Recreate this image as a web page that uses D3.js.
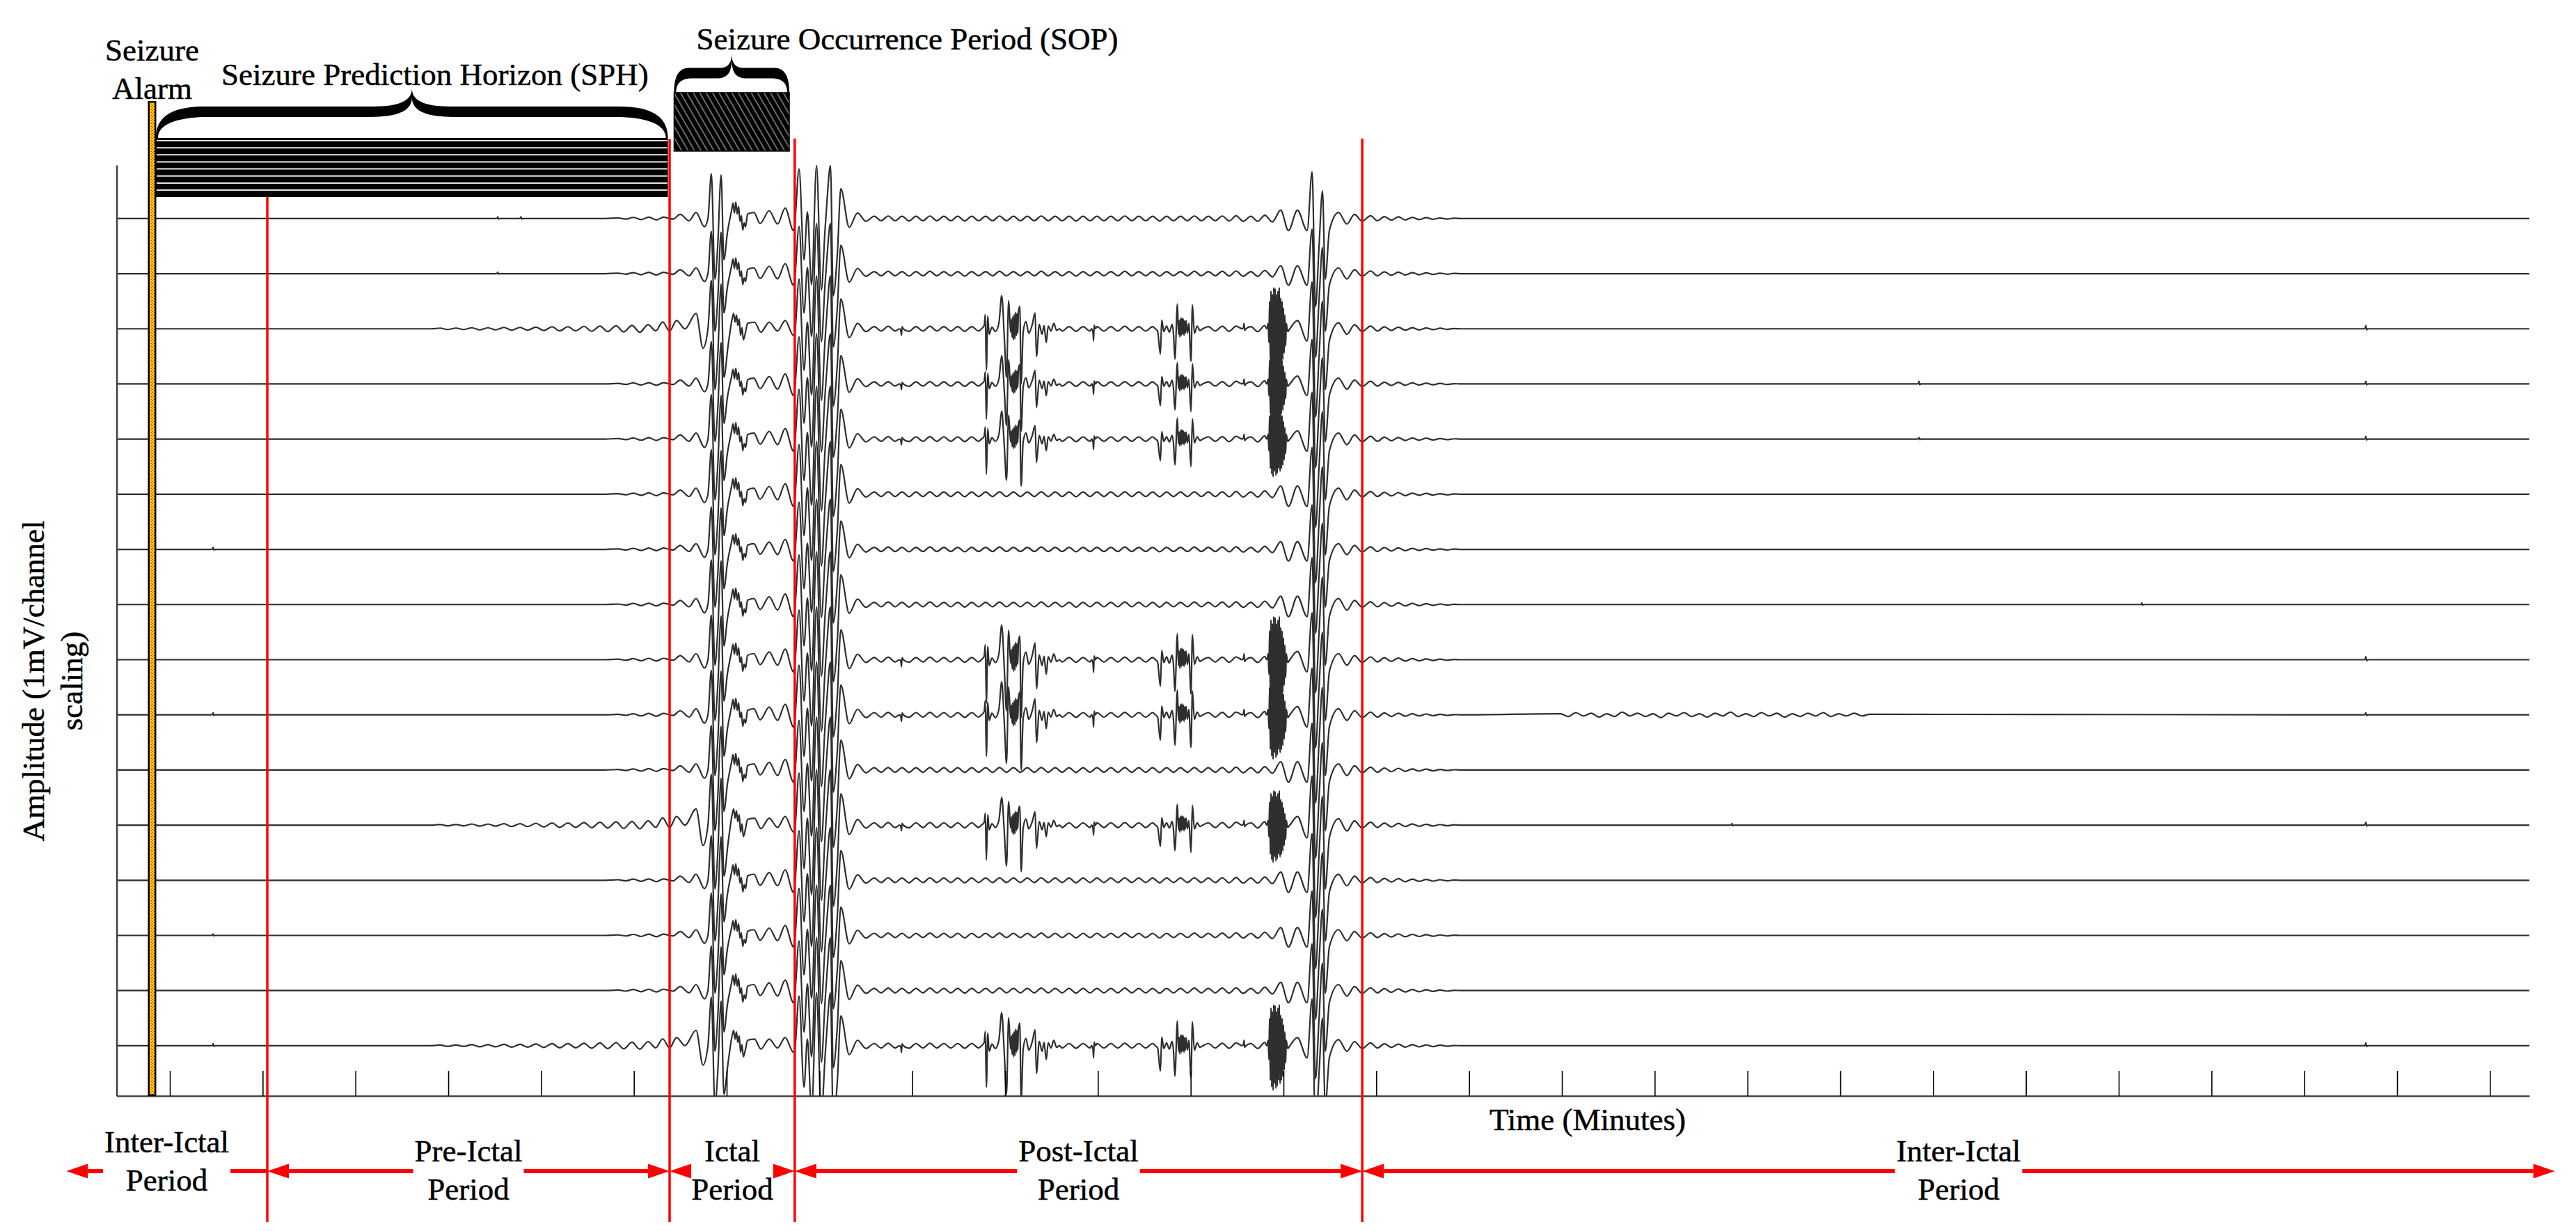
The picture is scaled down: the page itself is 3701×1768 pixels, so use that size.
<!DOCTYPE html>
<html><head><meta charset="utf-8">
<script src="https://cdn.jsdelivr.net/npm/d3@7"></script>
<style>html,body{margin:0;padding:0;background:#fff;} svg{display:block;}</style>
</head><body>
<svg id="chart" width="3701" height="1768"></svg>
<script>
// ================= DATA =================
const channels = [1,2,3,4,5,6,7,8,9,10,11,12,13,14,15,16];
const tickSeconds = [0,60,120,180,240,300,360,420,480,540,600,660,720,780,840,900,960,1020,1080,1140,1200,1260,1320,1380,1440,1500];
const timeDomain = [-34.4, 1525.5];          // seconds
const ampDomain = [0.09, 16.97];             // mV, 1 mV per channel
const periodLabels = [["Inter-Ictal","Period"],["Pre-Ictal","Period"],["Ictal","Period"],["Post-Ictal","Period"],["Inter-Ictal","Period"]];
const periodEdges = [-67, 63, 323.1, 404, 770.9, 1542];
const boundaryTimes = [63, 323.1, 404, 770.9];
const alarmTime = -11.5;
const sphWindow = [-9, 322];
const sopWindow = [326, 400.5];
const typeBChannels = [3, 12, 16];
const burstChannels = [3, 4, 5, 9, 10, 12, 16];
const burstGain = [1.0, 0.9, 0.85, 1.05, 1.0, 0.8, 1.0];
const channelGain = [1.0,0.95,1.0,0.95,1.0,1.0,0.95,1.0,1.0,1.0,1.0,1.05,1.0,0.95,1.0,1.0];

const preA = [[281.7,0],[289.8,0.01],[294.8,-0.01],[299.7,0.02],[304.7,-0.02],[309.6,0.025],[314.6,-0.025],[319.1,0.025],[323.1,0]];
const preB = [[169.2,0],[174.6,0.0125],[179.6,-0.0125],[185,0.0125],[189.9,-0.0125],[195.3,0.019],[200.3,-0.019],[205.7,0.019],[210.6,-0.019],[216,0.025],[221,-0.025],[226.4,0.025],[231.3,-0.025],[236.7,0.031],[241.7,-0.031],[247.1,0.0375],[252,-0.0375],[257.4,0.0375],[262.4,-0.0375],[267.8,0.044],[272.7,-0.044],[278.1,0.05],[283.1,-0.05],[288.5,0.056],[293.4,-0.056],[298.8,0.0625],[303.8,-0.0625],[309.2,0.075],[314.1,-0.0375],[318.6,0.125]];
const ictalA = [[325.4,-0.01],[329.9,0.075],[335.7,-0.04],[340.2,0.11],[345.6,-0.15],[347.9,0],[350.1,0.81],[352.4,-1.1],[354.2,-0.5],[356.4,0.79],[358.2,-0.75],[360.5,-0.25],[363.2,0.15],[364.1,0.28],[365,0.1],[365.9,0.3],[366.8,0.08],[367.7,0.22],[368.6,-0.05],[369.5,0.05],[370.4,-0.21],[371.3,-0.08],[372.2,-0.15],[373.5,0.08],[377.6,0.11],[381.6,-0.09],[387.5,0.14],[392.9,-0.1],[397.8,0.19],[403.2,-0.22]];
const ictalB = [[323.1,-0.04],[327.6,0.15],[333,0],[340.2,0.28],[344.7,-0.35],[347.9,0],[350.1,0.88],[352.4,-1.1],[354.2,-0.5],[356.4,0.81],[358.2,-0.88],[360.9,-0.31],[363.6,0.19],[364.5,0.28],[365.4,0.12],[366.3,0.25],[367.2,0.06],[368.1,0.18],[369,-0.12],[369.9,0.02],[370.8,-0.2],[372.2,-0.06],[373.5,0.1],[378,0.12],[382.1,-0.06],[387.5,0.12],[392.9,-0.04],[397.8,0.15],[403.2,-0.12]];
const postCore = [[404.1,-0.06],[406.8,0.9],[410,-0.75],[412.2,0.12],[414.9,-1.2],[418.1,0.96],[421.2,-1.3],[423.5,-0.25],[424.8,0.29],[427.1,0.96],[428.9,-1.4],[431.6,-0.62],[433.8,0.54],[439.2,-0.16],[444.6,0.1],[450,-0.05],[455.4,0.04]];
const postRippleStart = 459.9, postRippleStep = 4.5;
const postRipple = [-0.04,0.045,-0.04,0.04,-0.045,0.04,-0.04,0.045,-0.04,0.04,
  -0.04,0.04,-0.045,0.04,-0.04,0.04,-0.04,0.045,-0.04,0.04,
  -0.04,0.04,-0.04,0.045,-0.04,0.04,-0.04,0.04,-0.045,0.04,
  -0.04,0.04,-0.04,0.04,-0.04,0.045,-0.04,0.04,-0.04,0.04,
  -0.045,0.04,-0.04,0.04,-0.04,0.045,-0.04,0.04,-0.04,0.045,
  -0.045,0.05,-0.05];
const terminal = [[698.9,0.04],[703.4,-0.05],[707.9,0.06],[712.8,-0.06],[718.2,0.15],[723.2,-0.22],[729,0.15],[735.3,-0.22],[738.5,0.85],[740.7,-1.6],[743,-0.5],[745.2,0.5],[747,-1.1],[749.7,-0.21],[755.6,0.11],[761,-0.1],[765.9,0.075],[770.9,-0.05],[776.3,0.05]];
const tailRippleStart = 780.75, tailRippleStep = 4.5;
const tailRipple = [-0.04,0.035,-0.03,0.03,-0.025,0.02,-0.02,0.015,-0.015,0.01,-0.01,0.005];
const burstA = [[524.7,0],[526.5,0.06],[527.2,0.26],[527.9,-0.75],[528.8,0.23],[529.7,-0.1],[531.5,0.03],[533.7,-0.05],[536,0.1],[537.8,0.6],[539.6,-0.21],[540.9,-0.88],[542.3,0.51],[543.6,-0.06],[544.1,0.18],[544.6,-0.16],[545,0.22],[545.5,-0.2],[545.9,0.26],[546.4,-0.18],[546.8,0.3],[547.3,-0.12],[547.7,0.28],[548.2,-0.08],[548.6,0.3],[549.5,0.41],[550.4,-1.0],[551.7,-0.06],[553.5,0.13],[555.3,-0.08],[557.6,0.08],[559.4,0.29],[560.3,-0.5],[562.1,0.08],[563.9,-0.1],[565.2,0.06],[566.6,-0.25],[567.9,0.05],[569.7,-0.04],[571.5,0.1],[573.3,-0.03],[575.1,0]];
const burstB = [[637.2,0],[638.6,-0.04],[640.4,-0.46],[641.3,0.16],[642.6,-0.05],[644.4,0.05],[646.2,-0.06],[648,0.08],[648.9,-0.1],[649.8,-0.55],[651.4,0.45],[652.1,-0.1],[652.5,0.15],[653,-0.15],[653.4,0.19],[653.9,-0.12],[654.3,0.2],[654.8,-0.1],[655.2,0.18],[655.7,-0.12],[656.1,0.15],[656.6,-0.08],[657,0.15],[657.9,-0.08],[658.8,0.1],[660.2,-0.59],[661.1,0.43],[662.4,-0.08],[664.2,0.05],[666,-0.03],[667.8,0]];
const burstC = [[709.2,0],[710.1,0.1],[710.6,-0.25],[711,0.5],[711.5,-0.63],[711.9,0.69],[712.4,-0.75],[712.8,0.63],[713.3,-0.81],[713.7,0.75],[714.2,-0.69],[714.6,0.73],[715.1,-0.78],[715.5,0.63],[716,-0.73],[716.4,0.69],[716.9,-0.63],[717.3,0.75],[717.8,-0.69],[718.2,0.56],[718.7,-0.63],[719.1,0.5],[719.6,-0.56],[720,0.38],[720.5,-0.44],[720.9,0.25],[721.4,-0.31],[721.8,0.1],[722.7,-0.05],[724.1,0]];
const burstBlips = [[473,-0.12],[597.2,-0.22],[694.5,0.1]];
const interBlips = [[3,1419.8,0.06],[4,1419.8,0.05],[5,1419.8,0.05],[9,1419.8,0.06],[10,1419.8,0.04],[12,1419.8,0.05],[16,1419.8,0.05],[4,1130.9,0.05],[5,1130.9,0.03],[7,28,0.04],[10,28,0.04],[16,28,0.04],[14,28,0.03],[1,212,0.03],[1,227,0.03],[2,212,0.03],[8,1275,0.03],[12,1010,0.03]];
const noiseChannel = 10;
const noiseStart = 899, noiseStep = 5;
const noiseValues = [0.02,-0.03,0.04,-0.02,0.03,-0.04,0.02,-0.03,0.05,-0.02,0.03,-0.03,0.02,-0.05,0.03,-0.02,0.04,-0.03,0.02,-0.04,0.03,-0.02,0.05,-0.03,0.02,-0.03,0.04,-0.02,0.03,-0.04,0.02,-0.03,0.03,-0.02,0.04,-0.03,0.02,-0.02,0.03,-0.02,0.01];

// ================= LAYOUT =================
const W = 3701, H = 1768;
const plotL = 167.6, plotR = 3634, plotT = 237, plotB = 1574;
const FONT = '"Liberation Serif","Times New Roman",serif';
const FS = 45;

const svg = d3.select("#chart");
svg.append("rect").attr("width", W).attr("height", H).attr("fill", "#fff");

const x = d3.scaleLinear().domain(timeDomain).range([plotL, plotR]);
const y = d3.scaleLinear().domain(ampDomain).range([plotB, plotT]);

const defs = svg.append("defs");
defs.append("clipPath").attr("id", "plotClip").append("rect")
  .attr("x", plotL).attr("y", plotT).attr("width", plotR - plotL).attr("height", plotB - plotT);
const ap = defs.append("pattern").attr("id", "alarmPat").attr("width", 4).attr("height", 4).attr("patternUnits", "userSpaceOnUse");
ap.append("rect").attr("width", 4).attr("height", 4).attr("fill", "#ffe600");
ap.append("rect").attr("x", 0.5).attr("y", 0.5).attr("width", 1.5).attr("height", 1.5).attr("fill", "#ff2000");
ap.append("rect").attr("x", 2.5).attr("y", 2.5).attr("width", 1.5).attr("height", 1.5).attr("fill", "#ff2000");
const hp = defs.append("pattern").attr("id", "sopHatch").attr("width", 8).attr("height", 8)
  .attr("patternUnits", "userSpaceOnUse").attr("patternTransform", "rotate(-30)");
hp.append("rect").attr("width", 8).attr("height", 8).attr("fill", "#000");
hp.append("line").attr("x1", 4).attr("y1", -1).attr("x2", 4).attr("y2", 9).attr("stroke", "#b0b0b0").attr("stroke-width", 1.2);

// ================= TRACES =================
function blipShape(t, a) { return [[t - 1.2, 0], [t - 0.35, a * 0.3], [t, a], [t + 0.4, -a * 0.3], [t + 1.2, 0]]; }

function buildChannel(ch) {
  const isB = typeBChannels.includes(ch);
  let pts = [[timeDomain[0], 0]];
  if (isB) pts.push(...preB, ...ictalB); else pts.push(...preA, ...ictalA);
  pts.push(...postCore);
  postRipple.forEach((v, k) => pts.push([postRippleStart + k * postRippleStep, v]));
  pts.push(...terminal);
  tailRipple.forEach((v, k) => pts.push([tailRippleStart + k * tailRippleStep, v]));
  pts.push([835, 0], [timeDomain[1], 0]);
  const overlays = [];
  const bi = burstChannels.indexOf(ch);
  if (bi >= 0) {
    const g = burstGain[bi];
    [burstA, burstB, burstC].forEach(b => overlays.push(b.map(([t, v]) => [t, v * g])));
    burstBlips.forEach(([t, a]) => overlays.push(blipShape(t, a * g)));
  }
  interBlips.filter(b => b[0] === ch).forEach(([c, t, a]) => overlays.push(blipShape(t, a)));
  if (ch === noiseChannel) overlays.push(noiseValues.map((v, k) => [noiseStart + k * noiseStep, v]));
  overlays.forEach(ov => {
    const t0 = ov[0][0], t1 = ov[ov.length - 1][0];
    pts = pts.filter(p => p[0] < t0 || p[0] > t1);
    pts.push(...ov);
  });
  pts.sort((a, b) => a[0] - b[0]);
  return pts.filter((p, i) => i === 0 || p[0] > pts[i - 1][0]);
}

const traceG = svg.append("g").attr("clip-path", "url(#plotClip)");
channels.forEach((ch, i) => {
  const base = 17 - ch;
  const gain = channelGain[i];
  const line = d3.line().x(d => x(d[0])).y(d => y(base + d[1] * gain)).curve(d3.curveMonotoneX);
  traceG.append("path").datum(buildChannel(ch)).attr("d", line)
    .attr("fill", "none").attr("stroke", "#2e2e2e").attr("stroke-width", 2.2).attr("stroke-linejoin", "round");
});

// ================= AXES =================
const xAxis = svg.append("g").attr("transform", `translate(0,${plotB})`)
  .call(d3.axisBottom(x).tickValues(tickSeconds).tickSize(-36).tickSizeOuter(0).tickFormat(""));
xAxis.select(".domain").attr("stroke", "#404040").attr("stroke-width", 2.5);
xAxis.selectAll(".tick line").attr("stroke", "#000").attr("stroke-width", 1.6);
const yAxis = svg.append("g").attr("transform", `translate(${plotL},0)`)
  .call(d3.axisLeft(y).tickValues([]).tickSizeOuter(0));
yAxis.select(".domain").attr("stroke", "#404040").attr("stroke-width", 2.5);

// ================= ALARM BAR =================
const ax = x(alarmTime);
svg.append("rect").attr("x", ax - 6).attr("y", 145).attr("width", 12).attr("height", plotB - 145).attr("fill", "#000");
svg.append("rect").attr("x", ax - 3.5).attr("y", 147.5).attr("width", 7).attr("height", plotB - 150).attr("fill", "url(#alarmPat)");

// ================= SPH / SOP BOXES =================
const sphX0 = x(sphWindow[0]), sphX1 = x(sphWindow[1]);
svg.append("rect").attr("x", sphX0).attr("y", 198).attr("width", sphX1 - sphX0).attr("height", 85).attr("fill", "#000");
for (let k = 0; k < 8; k++) {
  const yy = 202 + k * 10.15;
  svg.append("line").attr("x1", sphX0 + 1).attr("x2", sphX1 - 1).attr("y1", yy).attr("y2", yy)
    .attr("stroke", "#e6e6e6").attr("stroke-width", 2);
}
const sopX0 = x(sopWindow[0]), sopX1 = x(sopWindow[1]);
svg.append("rect").attr("x", sopX0).attr("y", 133).attr("width", sopX1 - sopX0).attr("height", 84)
  .attr("fill", "url(#sopHatch)").attr("stroke", "#000").attr("stroke-width", 1.5);

function bracePath(x0, x1, yb, yt, t) {
  const Hh = yb - yt, w = x1 - x0;
  const xm = (x0 + x1) / 2;
  const top = yb - 0.635 * Hh, bot = top + t;
  const under = yt + 0.2 * Hh;
  const rE = Math.min(70, w * 0.13), rT = Math.min(55, w * 0.1);
  const p = d3.path();
  p.moveTo(x0, yb);
  p.bezierCurveTo(x0, top + 0.3 * (yb - top), x0 + rE * 0.35, top, x0 + rE, top);
  p.lineTo(xm - rT, top);
  p.bezierCurveTo(xm - rT * 0.35, top, xm, top - 0.3 * (top - yt), xm, yt);
  p.bezierCurveTo(xm, top - 0.3 * (top - yt), xm + rT * 0.35, top, xm + rT, top);
  p.lineTo(x1 - rE, top);
  p.bezierCurveTo(x1 - rE * 0.35, top, x1, top + 0.3 * (yb - top), x1, yb);
  p.lineTo(x1 - 3, yb);
  p.bezierCurveTo(x1 - 3, bot + 0.3 * (yb - bot), x1 - rE * 0.5, bot, x1 - rE - 5, bot);
  p.lineTo(xm + rT + 5, bot);
  p.bezierCurveTo(xm + rT * 0.4, bot, xm + 1, bot - 0.3 * (bot - under), xm, under);
  p.bezierCurveTo(xm - 1, bot - 0.3 * (bot - under), xm - rT * 0.4, bot, xm - rT - 5, bot);
  p.lineTo(x0 + rE + 5, bot);
  p.bezierCurveTo(x0 + rE * 0.5, bot, x0 + 3, bot + 0.3 * (yb - bot), x0 + 3, yb);
  p.closePath();
  return p.toString();
}
svg.append("path").attr("d", bracePath(sphX0, sphX1, 198, 127, 15)).attr("fill", "#000");
svg.append("path").attr("d", bracePath(sopX0, sopX1, 133, 77, 15)).attr("fill", "#000");

// ================= RED BOUNDARY LINES =================
const redTops = [283, 200, 199, 199];
boundaryTimes.forEach((t, i) => {
  svg.append("line").attr("x1", x(t)).attr("x2", x(t)).attr("y1", redTops[i]).attr("y2", 1755)
    .attr("stroke", "#ff0000").attr("stroke-width", 3.5);
});

// ================= TEXT =================
function styleText(sel) {
  return sel.attr("font-family", FONT).attr("font-size", FS).attr("fill", "#000")
    .attr("stroke", "#000").attr("stroke-width", 0.5);
}
function txt(xp, yp, s, anchor) {
  return styleText(svg.append("text").attr("x", xp).attr("y", yp).attr("text-anchor", anchor || "middle")).text(s);
}
txt(ax, 87, "Seizure");
txt(ax, 142, "Alarm");
txt(sphX0 + 94, 122, "Seizure Prediction Horizon (SPH)", "start");
txt(sopX0 + 32, 71, "Seizure Occurrence Period (SOP)", "start");
txt(2281, 1623, "Time (Minutes)");
styleText(svg.append("text").attr("transform", "translate(63,978) rotate(-90)").attr("text-anchor", "middle")).text("Amplitude (1mV/channel");
styleText(svg.append("text").attr("transform", "translate(118,978) rotate(-90)").attr("text-anchor", "middle")).text("scaling)");

// ================= PERIOD ARROWS =================
const yc = 1682, headL = 31, headH = 10.5, shaftH = 6;
periodLabels.forEach((lab, i) => {
  const xa = x(periodEdges[i]), xb = x(periodEdges[i + 1]);
  const cx = (xa + xb) / 2;
  const bl = i === 0 ? [1655, 1710] : [1668, 1723];
  const t1 = txt(cx, bl[0], lab[0]);
  const t2 = txt(cx, bl[1], lab[1]);
  const gapHalf = Math.max(t1.node().getComputedTextLength(), t2.node().getComputedTextLength()) / 2 + 2;
  svg.append("path").attr("d", `M${xa},${yc}L${xa + headL},${yc - headH}L${xa + headL},${yc + headH}Z`).attr("fill", "#ff0000");
  const ls = xa + headL, le = cx - gapHalf;
  if (le > ls) svg.append("rect").attr("x", ls).attr("y", yc - shaftH / 2).attr("width", le - ls).attr("height", shaftH).attr("fill", "#ff0000");
  const hasRight = i > 0;
  if (hasRight) svg.append("path").attr("d", `M${xb},${yc}L${xb - headL},${yc - headH}L${xb - headL},${yc + headH}Z`).attr("fill", "#ff0000");
  const rs = cx + gapHalf, re = hasRight ? xb - headL : xb;
  if (re > rs) svg.append("rect").attr("x", rs).attr("y", yc - shaftH / 2).attr("width", re - rs).attr("height", shaftH).attr("fill", "#ff0000");
});
</script>
</body></html>
